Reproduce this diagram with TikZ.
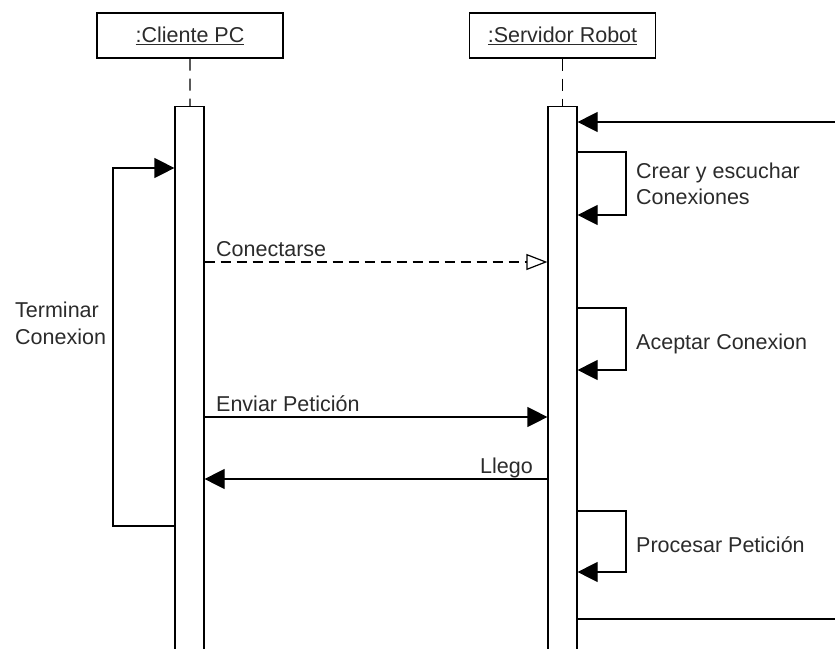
\documentclass[tikz,border=0pt]{standalone}
\usepackage{fontspec}
\setmainfont{Liberation Sans}
\usetikzlibrary{arrows.meta}
\definecolor{ink}{HTML}{2B2B2B}
\begin{document}
\begin{tikzpicture}[x=1pt,y=-1pt,
  every node/.style={font=\fontsize{21.5}{25.5}\selectfont, text=ink, inner sep=0pt},
  objbox/.style={draw, line width=1.2pt, minimum width=186pt, minimum height=45pt},
  actbar/.style={draw, fill=white, line width=1.2pt, minimum width=29pt, minimum height=580pt, anchor=north},
  lifeline/.style={line width=1.2pt, dash pattern=on 12pt off 8pt},
  msg/.style={line width=1.2pt, -{Triangle[length=20pt,width=20pt]}},
  reply/.style={line width=1.2pt, dash pattern=on 10pt off 6pt, -{Triangle[open,length=21pt,width=16pt]}},
  plain/.style={line width=1.2pt},
  lbl/.style={align=left}]
  \useasboundingbox (0,0) rectangle (835,648);

  % objects and their activation bars
  \node[objbox] (cli) at (190,35.5) {\underline{:Cliente PC}};
  \node[objbox] (srv) at (562.5,35.5) {\underline{:Servidor Robot}};
  \node[actbar] (clibar) at (189.5,106) {};
  \node[actbar] (srvbar) at (562.5,106) {};
  \draw[lifeline] (cli) -- (clibar);
  \draw[lifeline] (srv) -- (srvbar);

  % incoming call and final return on the right
  \coordinate (inA) at (835,122);
  \coordinate (outA) at (835,619);
  \draw[msg] (inA) -- (inA -| srvbar.east);
  \draw[plain] (outA -| srvbar.east) -- (outA);

  % self calls on the server
  \coordinate (c1a) at (626,152);  \coordinate (c1b) at (626,215);
  \draw[msg] (c1a -| srvbar.east) -- (c1a) -- (c1b) -- (c1b -| srvbar.east);
  \node[lbl, anchor=base west] (crear) at (636,204) {Crear y escuchar\\Conexiones};

  \coordinate (c2a) at (626,308);  \coordinate (c2b) at (626,370);
  \draw[msg] (c2a -| srvbar.east) -- (c2a) -- (c2b) -- (c2b -| srvbar.east);
  \node[anchor=base west] (acept) at (636,349) {Aceptar Conexion};

  \coordinate (c3a) at (626,511);  \coordinate (c3b) at (626,572);
  \draw[msg] (c3a -| srvbar.east) -- (c3a) -- (c3b) -- (c3b -| srvbar.east);
  \node[anchor=base west] (proc) at (636,552) {Procesar Petici\'on};

  % self call on the client
  \coordinate (t1a) at (113,526);  \coordinate (t1b) at (113,168);
  \draw[msg] (t1a -| clibar.west) -- (t1a) -- (t1b) -- (t1b -| clibar.west);
  \node[lbl, anchor=base west, font=\fontsize{21.5}{27}\selectfont] (term) at (15,344) {Terminar\\Conexion};

  % messages between client and server
  \coordinate (m1) at (0,262);
  \draw[reply] (m1 -| clibar.east) -- (m1 -| srvbar.west);
  \node[anchor=base west] (conn) at (216,256) {Conectarse};

  \coordinate (m2) at (0,417);
  \draw[msg] (m2 -| clibar.east) -- (m2 -| srvbar.west);
  \node[anchor=base west] (envi) at (216,411) {Enviar Petici\'on};

  \coordinate (m3) at (0,479);
  \draw[msg] (m3 -| srvbar.west) -- (m3 -| clibar.east);
  \node[anchor=base east] (lleg) at (533,473) {Llego};
\end{tikzpicture}
\end{document}
